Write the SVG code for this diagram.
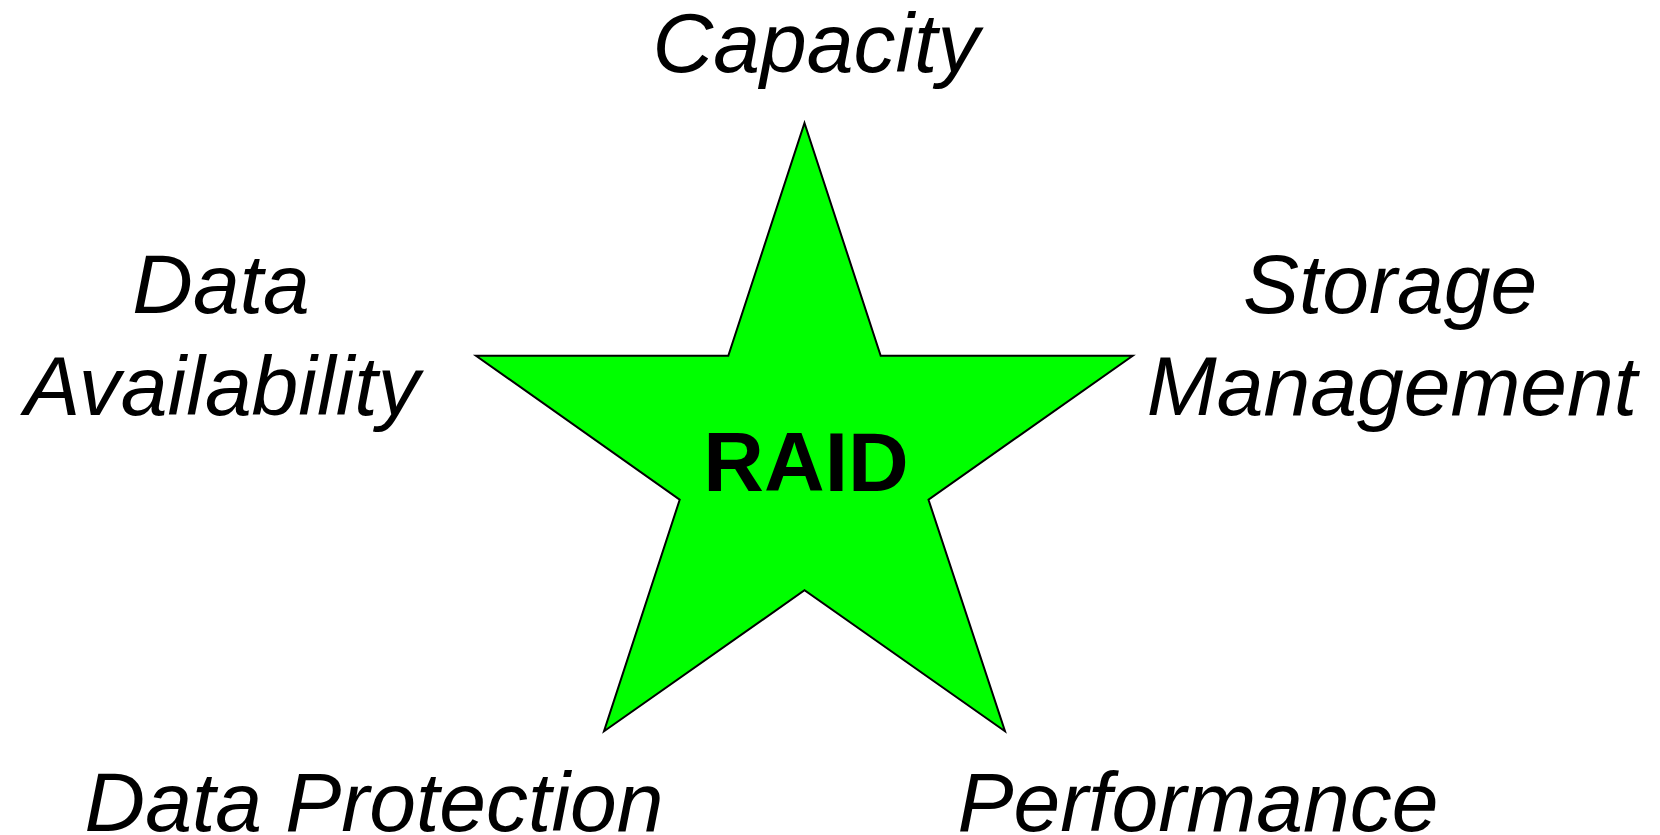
<svg xmlns="http://www.w3.org/2000/svg" width="1660" height="835" viewBox="0 0 1660 835">
<style>
.lbl{font-family:"Liberation Sans",Arial,sans-serif;font-style:italic;font-size:84px;fill:#000;text-anchor:middle}
.core{font-family:"Liberation Sans",Arial,sans-serif;font-weight:bold;font-size:84px;fill:#000;text-anchor:middle}
.star{fill:#00ff00;stroke:#000;stroke-width:2;stroke-linejoin:miter}
</style>
<rect width="1660" height="835" fill="#fff"/>
<g id="raid">
<polygon class="star" points="804.5,123 880.7,355.7 1132.7,355.7 928.5,499.7 1005,731.3 804.5,590.3 604,731.3 679.7,499.7 476,355.7 728.3,355.7"/>
<text class="core" x="806" y="491">RAID</text>
</g>
<g id="capacity"><text class="lbl" x="816" y="72">Capacity</text></g>
<g id="data-availability"><text class="lbl" x="221" y="313">Data</text><text class="lbl" x="222" y="415">Availability</text></g>
<g id="storage-management"><text class="lbl" x="1390" y="313">Storage</text><text class="lbl" x="1392" y="415">Management</text></g>
<g id="data-protection"><text class="lbl" x="374" y="831">Data Protection</text></g>
<g id="performance"><text class="lbl" x="1198" y="831">Performance</text></g>
<g id="connectors"></g>
</svg>
